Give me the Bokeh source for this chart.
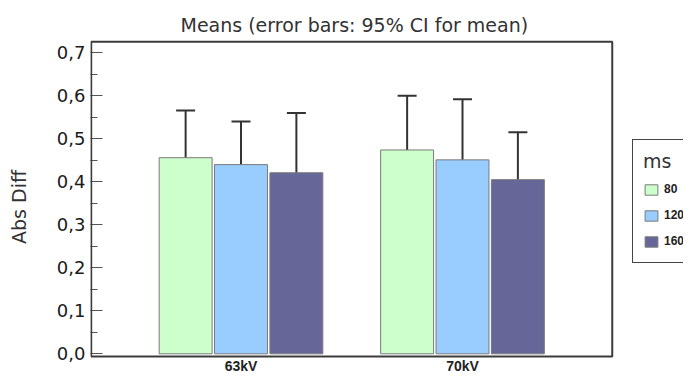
from bokeh.plotting import figure
from bokeh.models import (ColumnDataSource, Range1d, FixedTicker, CustomJSTickFormatter,
                          Whisker, TeeHead, Legend, LegendItem, BoxAnnotation)
from bokeh.core.properties import value
from bokeh.transform import dodge
from bokeh.embed import file_html
from bokeh.resources import INLINE

# ---- data ----
groups = ["63kV", "70kV"]
ms_levels = ["80", "120", "160"]
mean_80 = [0.456, 0.474]
mean_120 = [0.440, 0.451]
mean_160 = [0.421, 0.405]
low_80 = [0.347, 0.350]
high_80 = [0.566, 0.600]
low_120 = [0.337, 0.310]
high_120 = [0.540, 0.592]
low_160 = [0.281, 0.296]
high_160 = [0.560, 0.515]
y_ticks = [0.0, 0.1, 0.2, 0.3, 0.4, 0.5, 0.6, 0.7]
y_minor = [0.05, 0.15, 0.25, 0.35, 0.45, 0.55, 0.65]

colors = ["#ccffcc", "#99ccff", "#666699"]
offsets = [-0.25, 0.0, 0.25]
series = list(zip(ms_levels, [mean_80, mean_120, mean_160], [low_80, low_120, low_160],
                  [high_80, high_120, high_160], colors, offsets))

xpos = [i + 1 for i in range(len(groups))]

# plot-box extents (layout, in axis units)
box_left, box_right = 0.3237, 2.676
box_bottom, box_top = -0.0063, 0.7256

p = figure(width=683, height=374, output_backend="svg", toolbar_location=None,
           x_axis_location=None,
           x_range=Range1d(0.3205, 2.9977), y_range=Range1d(-0.0481, 0.7309),
           min_border_left=90, min_border_right=0, min_border_top=39, min_border_bottom=0,
           title="Means  (error bars: 95% CI for mean)")

p.background_fill_color = "white"
p.border_fill_color = "white"
p.outline_line_color = None
p.xgrid.visible = False
p.ygrid.visible = False

p.title.align = "left"
p.title.offset = 90
p.title.text_font = "DejaVu Sans"
p.title.text_font_size = "19px"
p.title.text_font_style = "normal"
p.title.text_color = "#333333"
p.title.standoff = 8

items = []
for name, means, lows, highs, color, off in series:
    src = ColumnDataSource(dict(x=xpos, top=means, lower=lows, upper=highs))
    r = p.vbar(x=dodge("x", off), top="top", bottom=0, width=0.239, source=src,
               fill_color=color, line_color="#7a7a7a", line_width=1)
    w = Whisker(base=dodge("x", off), lower="lower", upper="upper", source=src,
                line_color="#333333", line_width=2,
                upper_head=TeeHead(size=19, line_color="#333333", line_width=2),
                lower_head=TeeHead(size=19, line_color="#333333", line_width=2))
    p.add_layout(w)
    items.append(LegendItem(label=name, renderers=[r]))

p.add_layout(BoxAnnotation(left=box_left, right=box_right, bottom=box_bottom, top=box_top,
                           fill_color=None, fill_alpha=0, line_color="#3c3c3c",
                           line_alpha=1, line_width=2))

# category labels under the box
p.text(x=xpos, y=[box_bottom] * len(xpos), text=groups, text_align="center",
       text_baseline="top", y_offset=1, text_font=value("Liberation Sans"),
       text_font_size="14px", text_font_style="bold", text_color="#222222")

# y axis
ya = p.yaxis[0]
ya.ticker = FixedTicker(ticks=y_ticks, minor_ticks=y_minor)
ya.formatter = CustomJSTickFormatter(code="return tick.toFixed(1).replace('.', ',');")
ya.axis_label = "Abs Diff"
ya.axis_label_text_font = "DejaVu Sans"
ya.axis_label_text_font_size = "19px"
ya.axis_label_text_font_style = "normal"
ya.axis_label_text_color = "#333333"
ya.axis_label_standoff = 24
ya.major_label_text_font = "DejaVu Sans"
ya.major_label_text_font_size = "18px"
ya.major_label_text_color = "#1a1a1a"
ya.major_label_standoff = 5
ya.axis_line_color = None
ya.major_tick_in = 12
ya.major_tick_out = 0
ya.minor_tick_in = 7
ya.minor_tick_out = 0
ya.major_tick_line_color = "#555555"
ya.minor_tick_line_color = "#555555"

legend = Legend(items=items, location=(542, 111), title="ms",
                title_text_font="DejaVu Sans", title_text_font_size="19px",
                title_text_font_style="normal", title_text_color="#333333",
                title_standoff=6,
                label_text_font="Liberation Sans", label_text_font_size="12px",
                label_text_font_style="bold", label_text_color="#222222",
                glyph_width=16, glyph_height=13, label_height=22, spacing=4,
                label_standoff=5, padding=10, margin=0,
                border_line_color="#444444", border_line_alpha=1, border_line_width=1,
                background_fill_color="white", background_fill_alpha=1)
p.add_layout(legend, "center")

open("out.html", "w").write(file_html(p, INLINE))
